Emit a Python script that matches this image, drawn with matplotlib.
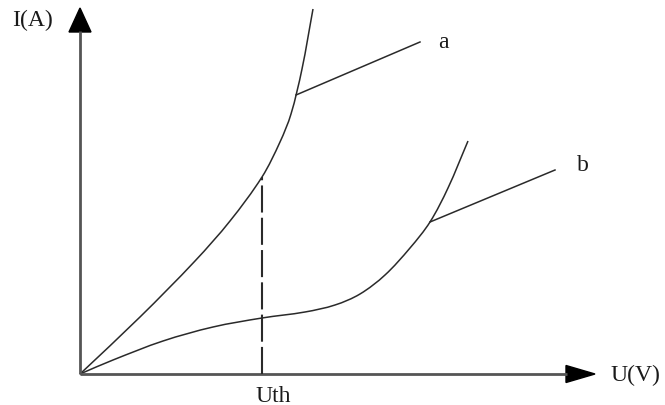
import numpy as np
import matplotlib.pyplot as plt
from matplotlib.path import Path
from matplotlib.patches import PathPatch, Polygon

# points (x = U, y = I, pixel-like units, origin at axes corner)
curve_a_x = [0, 60, 115, 150, 182, 200, 211, 222, 233]
curve_a_y = [0, 57, 113, 153, 197, 232, 260, 305, 365]
curve_b_x = [0, 33, 83, 133, 182, 225, 255, 280, 305, 330, 350, 368, 388]
curve_b_y = [0, 14, 33, 47, 56, 62, 69, 80, 99, 126, 152, 186, 233]

uth_x, uth_y = 182, 197
lead_a = ([216, 340], [279, 332])
lead_b = ([350, 475], [152, 204])
labels = {"a": (363, 333), "b": (503, 209)}


def smooth_path(xs, ys):
    """smooth curve through the points, handed to matplotlib as cubic Beziers"""
    pts = np.column_stack([xs, ys]).astype(float)
    n = len(pts)
    tang = np.zeros_like(pts)
    for i in range(n):
        lo, hi = max(i - 1, 0), min(i + 1, n - 1)
        d = pts[hi] - pts[lo]
        tang[i] = d / np.hypot(*d)
    verts = [pts[0]]
    codes = [Path.MOVETO]
    for i in range(n - 1):
        seg = np.hypot(*(pts[i + 1] - pts[i])) / 3
        verts += [pts[i] + tang[i] * seg, pts[i + 1] - tang[i + 1] * seg, pts[i + 1]]
        codes += [Path.CURVE4] * 3
    return Path(verts, codes)


fig = plt.figure(figsize=(6.65, 4.06), dpi=100)
ax = fig.add_axes([0, 0, 1, 1])
ax.set_xlim(-80, 585)
ax.set_ylim(-31, 375)
ax.axis("off")

curve_col = "#2a2a2a"
axis_col = "#555555"

# axes with arrow heads
ax.plot([0, 0], [0, 343], color=axis_col, lw=2, solid_capstyle="butt")
ax.plot([0, 487], [0, 0], color=axis_col, lw=2, solid_capstyle="butt")
ax.add_patch(Polygon([[-11, 342], [11, 342], [0, 366]], closed=True, color="black"))
ax.add_patch(Polygon([[486, 8.5], [486, -8.5], [515, 0]], closed=True, color="black"))

for xs, ys in [(curve_a_x, curve_a_y), (curve_b_x, curve_b_y)]:
    ax.add_patch(PathPatch(smooth_path(xs, ys), fill=False, edgecolor=curve_col, lw=1.1))

ax.plot([uth_x, uth_x], [0, uth_y], color=curve_col, lw=1.5, dashes=(13, 2.5))
ax.plot(*lead_a, color=curve_col, lw=1.1)
ax.plot(*lead_b, color=curve_col, lw=1.1)

font = dict(family="Liberation Serif", fontsize=17, color="#1a1a1a")
ax.text(-68, 355, "I(A)", ha="left", va="center", **font)
ax.text(530, 0, "U(V)", ha="left", va="center", **font)
ax.text(uth_x + 11, -22, "Uth", ha="center", va="center", **font)
for name, (lx, ly) in labels.items():
    ax.text(lx, ly, name, ha="center", va="center", **font)

fig.savefig("out.png", dpi=100)
